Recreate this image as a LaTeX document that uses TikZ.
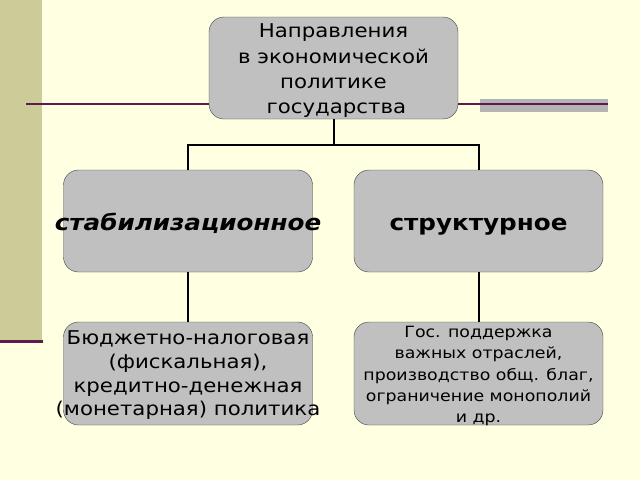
\documentclass[tikz,border=0pt]{standalone}
\usepackage{fontspec}
\setmainfont[FakeStretch=1.12]{DejaVu Sans}
\usetikzlibrary{positioning}
\definecolor{cream}{HTML}{FFFFE1}
\definecolor{khaki}{HTML}{CCCC99}
\definecolor{plum}{HTML}{5E1A4C}
\definecolor{boxgray}{HTML}{C0C0C0}
\definecolor{bargray}{HTML}{B4B4B4}
% centred lines that may stick out of the box, shifted down by #1
\newcommand{\boxlines}[2]{\makebox[0pt]{\raisebox{#1}[0pt][0pt]{\begin{tabular}{@{}c@{}}#2\end{tabular}}}}
\begin{document}
\begin{tikzpicture}[x=1pt,y=-1pt,
box/.style={draw=black!75,fill=boxgray,rounded corners=15pt,inner sep=0pt,minimum width=249pt,minimum height=102pt},
link/.style={line width=2pt}]
\fill[cream] (0,0) rectangle (640,480);
\fill[khaki] (0,0) rectangle (42,340);
\fill[plum] (0,339.5) rectangle (43,343);
\fill[bargray] (480,99) rectangle (608,112);
\node[box,font=\fontsize{19}{25.3}\selectfont] (top) at (333.5,68) {\boxlines{-7pt}{Направления\\в экономической\\политике\\\hspace*{0.3em}государства}};
\draw[plum,line width=1.5pt] (26,104) -- (top.west |- 0,104);
\draw[plum,line width=1.5pt] (top.east |- 0,104) -- (608,104);
\node[box,font=\fontsize{22}{26}\selectfont\bfseries\itshape] (stab) at (188,221) {\boxlines{-9.5pt}{стабилизационное}};
\node[box,font=\fontsize{22}{26}\selectfont\bfseries] (struct) at (478.5,221) {\boxlines{-9.5pt}{структурное}};
\node[box,minimum height=103pt,font=\fontsize{19}{23.7}\selectfont] (fisc) at (188,373.5) {\boxlines{-6.5pt}{Бюджетно-налоговая\\(фискальная),\\кредитно-денежная\\(монетарная) политика}};
\node[box,minimum height=103pt,font=\fontsize{15.5}{21.2}\selectfont] (gos) at (478.5,373.5) {\boxlines{-6pt}{Гос. поддержка\\важных отраслей,\\производство общ. благ,\\ограничение монополий\\и др.}};
\coordinate (fork) at (333.5,145);
\draw[link] (top) -- (fork);
\draw[link] (fork) -| (stab);
\draw[link] (fork) -| (struct);
\draw[link] (stab) -- (fisc);
\draw[link] (struct) -- (gos);
\end{tikzpicture}
\end{document}
